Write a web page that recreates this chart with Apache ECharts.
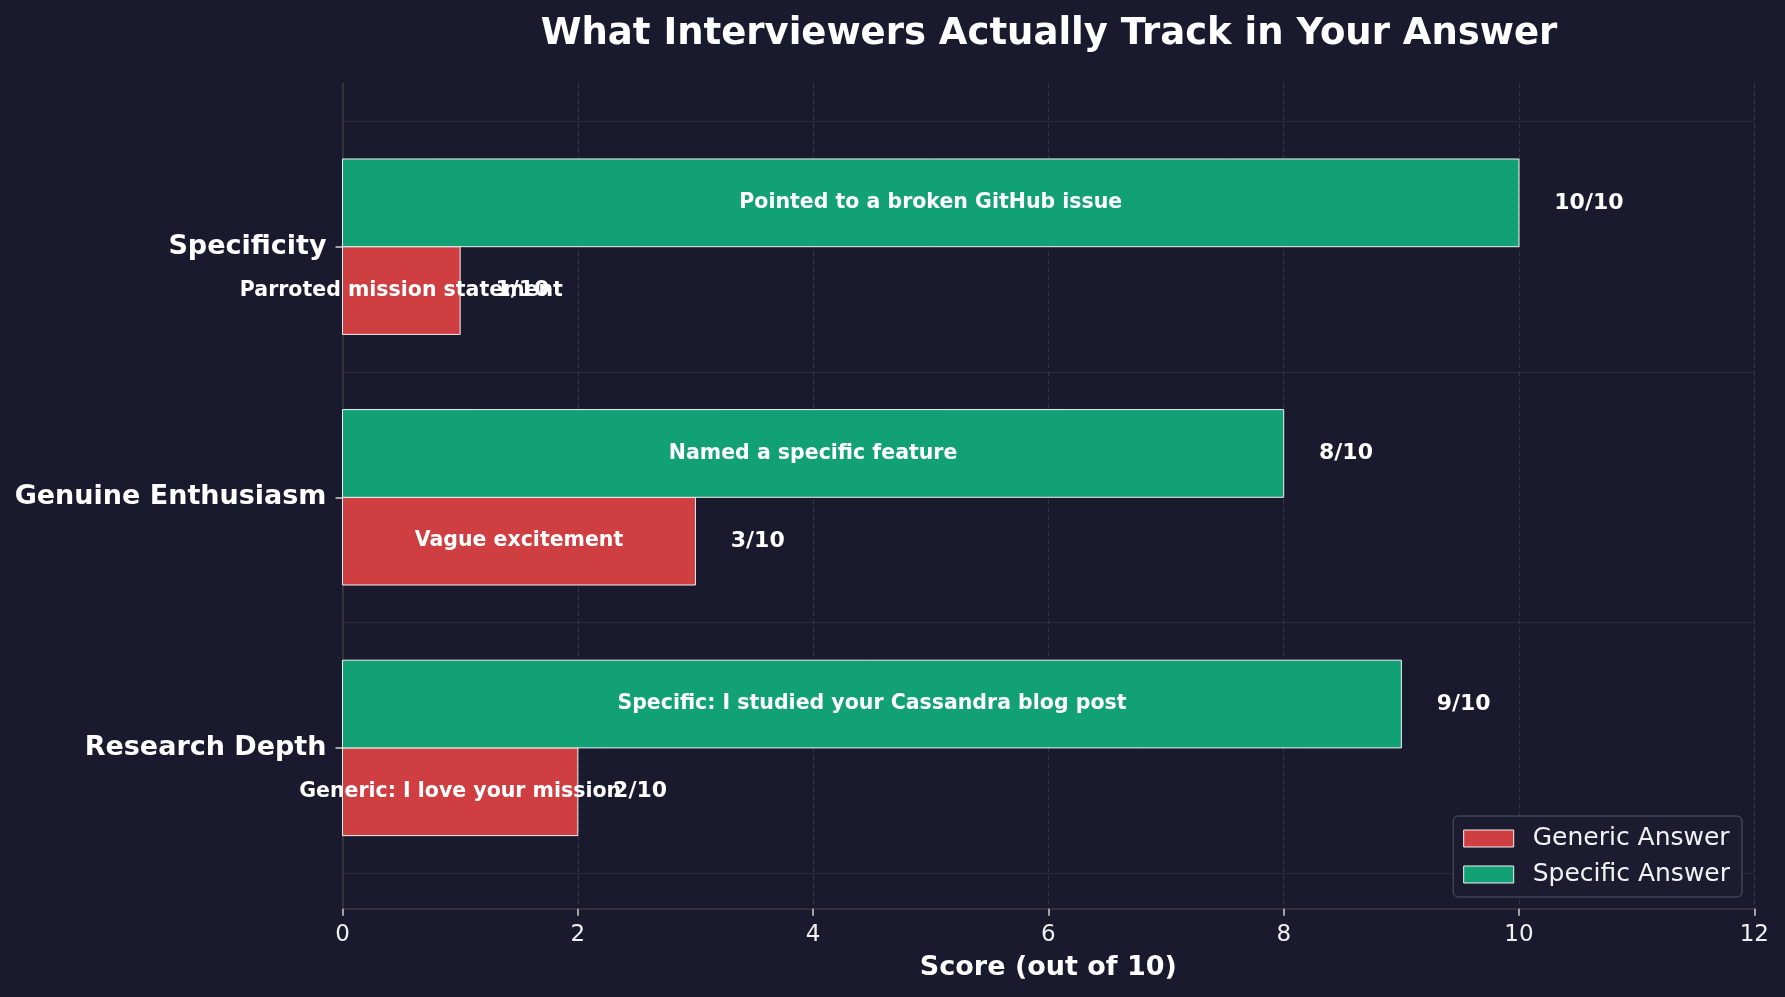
<!DOCTYPE html>
<html>
<head>
<meta charset="utf-8">
<title>What Interviewers Actually Track in Your Answer</title>
<script src="https://cdn.jsdelivr.net/npm/echarts@6/dist/echarts.min.js"></script>
<style>
  html, body { margin: 0; padding: 0; background: #1a1a2e; }
  #main { width: 1785px; height: 997px; }
</style>
</head>
<body>
<div id="main"></div>
<script>
// data
var categories = ['Specificity', 'Genuine Enthusiasm', 'Research Depth'];
var genericScores = [1, 3, 2];
var specificScores = [10, 8, 9];
var genericNotes = ['Parroted mission statement', 'Vague excitement', 'Generic: I love your mission'];
var specificNotes = ['Pointed to a broken GitHub issue', 'Named a specific feature', 'Specific: I studied your Cassandra blog post'];
var seriesNames = ['Generic Answer', 'Specific Answer'];
var scoreMax = 12;
var scoreStep = 2;

var FONT = 'DejaVu Sans';
var RED = '#cf3e41';
var GREEN = '#12a175';
var BAR_H = 0.35;      // bar height as share of a category band
var LABEL_PAD = 0.3;   // value label offset, in score units

// draws one bar plus its note (centred) and its score (right of the bar)
function barRenderer(notes, above, color) {
    return function (params, api) {
        var i = params.dataIndex;
        var v = api.value(0);
        var c = api.value(1);
        var base = api.coord([0, c]);
        var tip = api.coord([v, c]);
        var h = api.size([0, 1])[1] * BAR_H;
        var top = above ? base[1] - h : base[1];
        var mid = top + h / 2;
        return {
            type: 'group',
            children: [
                {
                    type: 'rect',
                    shape: { x: base[0], y: top, width: tip[0] - base[0], height: h },
                    style: { fill: color, stroke: '#f2f2f2', lineWidth: 1 }
                },
                {
                    type: 'text',
                    z2: 10,
                    style: {
                        text: notes[i], x: api.coord([v / 2, c])[0], y: mid,
                        fill: '#ffffff', fontSize: 20.5, fontWeight: 'bold', fontFamily: FONT,
                        align: 'center', verticalAlign: 'middle'
                    }
                },
                {
                    type: 'text',
                    z2: 10,
                    style: {
                        text: v + '/10', x: api.coord([v + LABEL_PAD, c])[0], y: mid,
                        fill: '#ffffff', fontSize: 22, fontWeight: 'bold', fontFamily: FONT,
                        align: 'left', verticalAlign: 'middle'
                    }
                }
            ]
        };
    };
}

var myChart = echarts.init(document.getElementById('main'));

var option = {
    backgroundColor: '#1a1a2e',
    textStyle: { fontFamily: FONT },
    animation: false,
    title: {
        text: 'What Interviewers Actually Track in Your Answer',
        left: 1049,
        top: 16,
        padding: 0,
        textAlign: 'center',
        textStyle: { color: '#ffffff', fontSize: 37, fontWeight: 'bold', fontFamily: FONT }
    },
    legend: {
        data: seriesNames,
        orient: 'vertical',
        right: 43,
        bottom: 100,
        padding: [10, 12, 10, 10],
        itemWidth: 50,
        itemHeight: 17,
        itemGap: 11,
        icon: 'rect',
        backgroundColor: '#1c1c30',
        borderColor: '#55556a',
        borderWidth: 1,
        borderRadius: 5,
        itemStyle: { borderColor: '#f2f2f2', borderWidth: 1 },
        textStyle: { color: '#f2f2f2', fontSize: 25, lineHeight: 25, fontFamily: FONT, padding: [0, 0, 0, 14] }
    },
    grid: [
        // full frame: spine, x axis, dashed verticals
        { left: 342.5, right: 30.7, top: 83.3, bottom: 88.3 },
        // category bands
        { left: 342.5, right: 30.7, top: 121.4, bottom: 123.8 }
    ],
    xAxis: [
        {
            gridIndex: 0,
            type: 'value',
            min: 0,
            max: scoreMax,
            interval: scoreStep,
            name: 'Score (out of 10)',
            nameLocation: 'middle',
            nameGap: 46,
            nameTextStyle: { color: '#ffffff', fontSize: 27, fontWeight: 'bold', fontFamily: FONT },
            axisLine: { show: true, lineStyle: { color: '#3a3a40', width: 1.5 } },
            axisTick: { show: true, length: 7, lineStyle: { color: '#cfcfcf', width: 1.5 } },
            axisLabel: { color: '#f0f0f0', fontSize: 23, margin: 15, fontFamily: FONT },
            splitLine: { show: true, lineStyle: { color: '#33334a', width: 1.2, type: [5, 3] } }
        },
        {
            gridIndex: 1,
            type: 'value',
            min: 0,
            max: scoreMax,
            show: false
        }
    ],
    yAxis: [
        {
            gridIndex: 0,
            type: 'value',
            min: 0,
            max: 1,
            axisLine: { show: true, lineStyle: { color: '#3a3a40', width: 1.5 } },
            axisTick: { show: false },
            axisLabel: { show: false },
            splitLine: { show: false }
        },
        {
            gridIndex: 1,
            type: 'category',
            inverse: true,
            data: categories,
            axisLine: { show: false },
            axisTick: { show: true, alignWithLabel: true, length: 7, lineStyle: { color: '#cfcfcf', width: 1.5 } },
            axisLabel: { color: '#ffffff', fontSize: 27, fontWeight: 'bold', margin: 16, padding: [4, 0, 0, 0], fontFamily: FONT },
            splitLine: { show: true, lineStyle: { color: '#2a2a3c', width: 1 } }
        }
    ],
    series: [
        {
            name: seriesNames[0],
            type: 'custom',
            xAxisIndex: 1,
            yAxisIndex: 1,
            itemStyle: { color: RED },
            encode: { x: 0, y: 1 },
            renderItem: barRenderer(genericNotes, false, RED),
            data: genericScores.map(function (v, i) { return [v, i]; })
        },
        {
            name: seriesNames[1],
            type: 'custom',
            xAxisIndex: 1,
            yAxisIndex: 1,
            itemStyle: { color: GREEN },
            encode: { x: 0, y: 1 },
            renderItem: barRenderer(specificNotes, true, GREEN),
            data: specificScores.map(function (v, i) { return [v, i]; })
        }
    ]
};

myChart.setOption(option);
</script>
</body>
</html>
